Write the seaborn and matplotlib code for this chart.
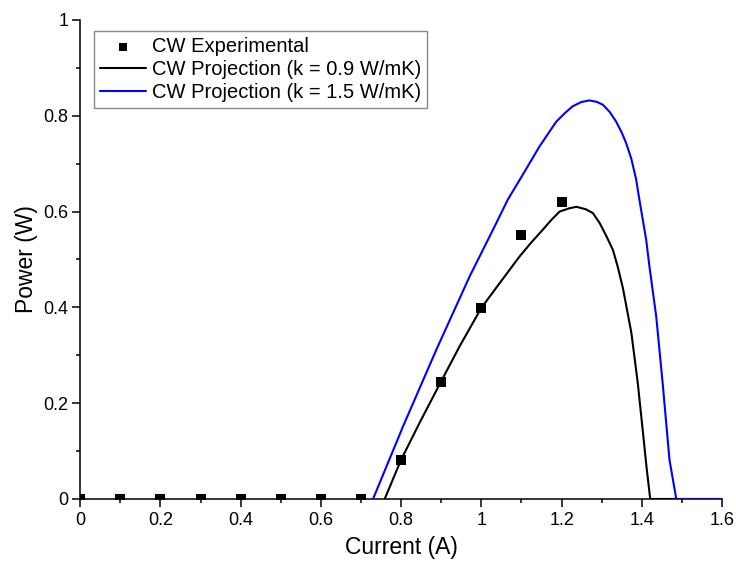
import matplotlib
matplotlib.use("Agg")
import matplotlib.pyplot as plt
import seaborn as sns
import pandas as pd
from matplotlib.ticker import MultipleLocator, FuncFormatter

# Experimental data
exp_current = [0.0, 0.1, 0.2, 0.3, 0.4, 0.5, 0.6, 0.7, 0.8, 0.9, 1.0, 1.1, 1.2]
exp_power = [0, 0, 0, 0, 0, 0, 0, 0, 0.082, 0.245, 0.398, 0.552, 0.620]

# Projection k = 0.9 W/mK
k09_current = [0.759, 0.80, 0.846, 0.90, 0.946, 1.0, 1.046, 1.095, 1.125, 1.153, 1.175, 1.195,
               1.22, 1.237, 1.26, 1.278, 1.295, 1.311, 1.328, 1.34, 1.353, 1.374, 1.39, 1.403,
               1.412, 1.421, 1.6]
k09_power = [0.0, 0.082, 0.159, 0.246, 0.319, 0.399, 0.451, 0.506, 0.536, 0.562, 0.583, 0.600,
             0.607, 0.610, 0.605, 0.597, 0.576, 0.550, 0.520, 0.485, 0.440, 0.347, 0.242, 0.138,
             0.065, 0.0, 0.0]

# Projection k = 1.5 W/mK
k15_current = [0.730, 0.805, 0.888, 0.971, 1.029, 1.066, 1.104, 1.145, 1.187, 1.21, 1.228, 1.25,
               1.27, 1.288, 1.303, 1.32, 1.336, 1.35, 1.361, 1.374, 1.386, 1.394, 1.411, 1.419,
               1.436, 1.452, 1.469, 1.486, 1.6]
k15_power = [0.0, 0.152, 0.312, 0.465, 0.562, 0.625, 0.678, 0.736, 0.788, 0.807, 0.820, 0.829,
             0.832, 0.829, 0.823, 0.808, 0.788, 0.765, 0.743, 0.710, 0.667, 0.625, 0.541, 0.486,
             0.381, 0.242, 0.082, 0.0, 0.0]

sns.set_theme(style="ticks")
plt.rcParams['font.family'] = ['Liberation Sans', 'DejaVu Sans']

fig = plt.figure(figsize=(7.36, 5.63), dpi=100)
ax = fig.add_axes([0.109, 0.1137, 0.872, 0.8508])

df_exp = pd.DataFrame({"Current": exp_current, "Power": exp_power})
df09 = pd.DataFrame({"Current": k09_current, "Power": k09_power})
df15 = pd.DataFrame({"Current": k15_current, "Power": k15_power})

sns.lineplot(data=df09, x="Current", y="Power", sort=False, estimator=None, color="black",
             lw=1.5, ax=ax, label="CW Projection (k = 0.9 W/mK)", zorder=2,
             solid_joinstyle="round")
sns.lineplot(data=df15, x="Current", y="Power", sort=False, estimator=None, color="#0000ff",
             lw=1.5, ax=ax, label="CW Projection (k = 1.5 W/mK)", zorder=3,
             solid_joinstyle="round")
sns.scatterplot(data=df_exp, x="Current", y="Power", marker="s", s=62, color="black",
                edgecolor="black", linewidth=0, ax=ax, label="CW Experimental", zorder=4)

ax.set_xlim(0, 1.6)
ax.set_ylim(0, 1.0)
ax.xaxis.set_major_locator(MultipleLocator(0.2))
ax.xaxis.set_minor_locator(MultipleLocator(0.1))
ax.yaxis.set_major_locator(MultipleLocator(0.2))
ax.yaxis.set_minor_locator(MultipleLocator(0.1))
fmt = FuncFormatter(lambda v, p: "%g" % round(v, 2))
ax.xaxis.set_major_formatter(fmt)
ax.yaxis.set_major_formatter(fmt)

sns.despine(ax=ax)
for s in ("left", "bottom"):
    ax.spines[s].set_linewidth(1.1)
    ax.spines[s].set_color("black")
ax.tick_params(which="major", direction="out", length=5.5, width=1.1, labelsize=13,
               colors="black", labelcolor="black")
ax.tick_params(which="minor", direction="out", length=3, width=1.1, colors="black")
ax.tick_params(axis="x", which="major", pad=4)
ax.tick_params(axis="y", which="major", pad=3)

ax.set_xlabel("Current (A)", fontsize=16.5, labelpad=5, color="black")
ax.set_ylabel("Power (W)", fontsize=16.5, labelpad=4, color="black")

handles, labels = ax.get_legend_handles_labels()
order = [labels.index("CW Experimental"), labels.index("CW Projection (k = 0.9 W/mK)"),
         labels.index("CW Projection (k = 1.5 W/mK)")]
leg = ax.legend([handles[i] for i in order], [labels[i] for i in order],
                loc="upper left", bbox_to_anchor=(0.0208, 0.9775), fontsize=14.5,
                frameon=True, fancybox=False, edgecolor="#888888", framealpha=1,
                handlelength=2.3, handletextpad=0.3, labelspacing=0.2,
                borderpad=0.3, borderaxespad=0.0, markerscale=0.82)
leg.get_frame().set_linewidth(1.0)
for t in leg.get_texts():
    t.set_color("black")

fig.savefig("out.png", dpi=100)
